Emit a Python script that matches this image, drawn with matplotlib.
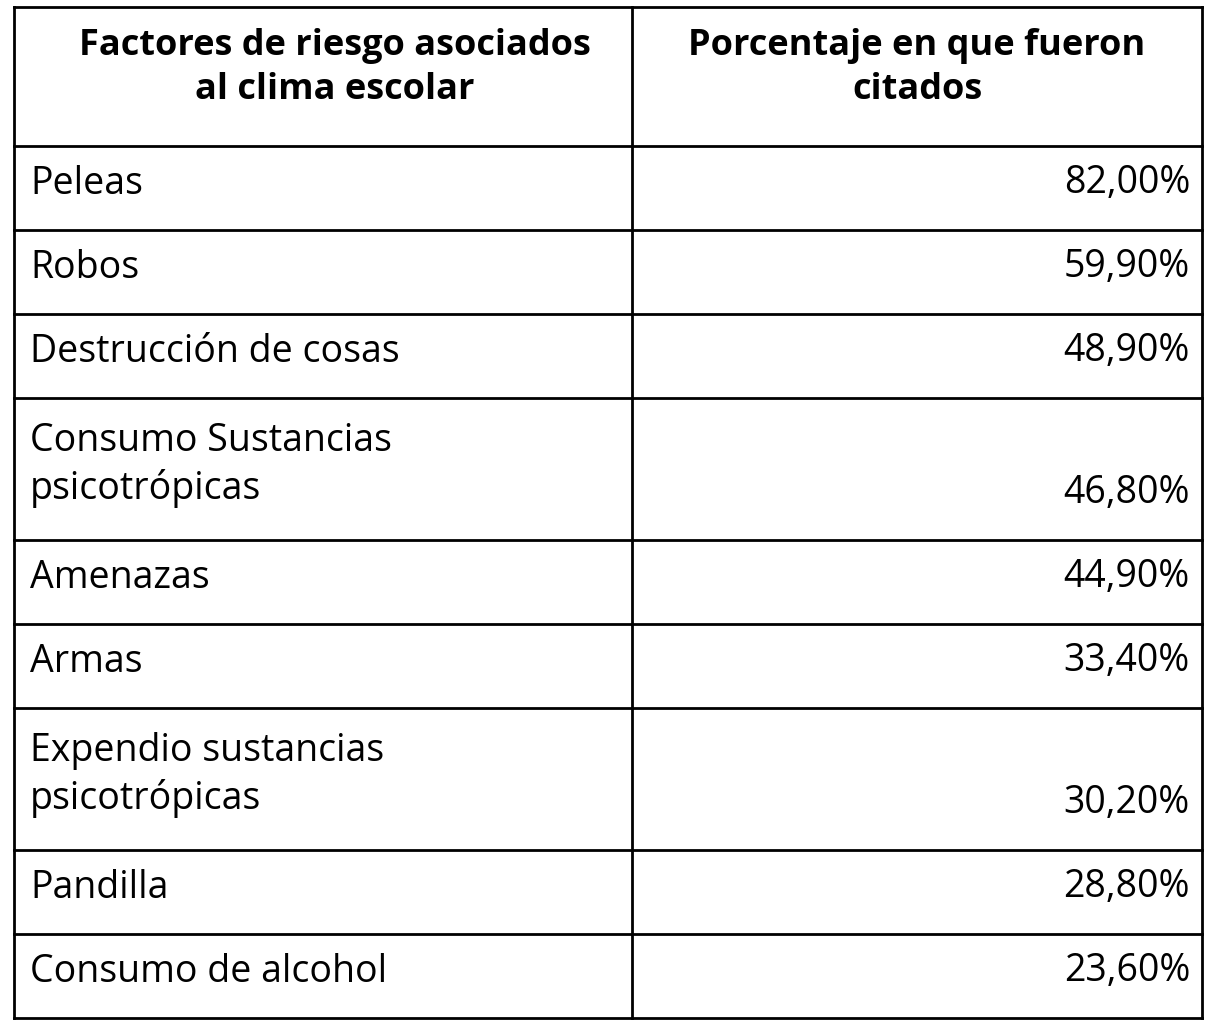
import matplotlib.pyplot as plt

headers = ["Factores de riesgo asociados\nal clima escolar",
           "Porcentaje en que fueron\ncitados"]
factores = ["Peleas", "Robos", "Destrucción de cosas",
            "Consumo Sustancias\npsicotrópicas", "Amenazas", "Armas",
            "Expendio sustancias\npsicotrópicas", "Pandilla", "Consumo de alcohol"]
porcentajes = [82.00, 59.90, 48.90, 46.80, 44.90, 33.40, 30.20, 28.80, 23.60]

W, H = 1214, 1028
fig = plt.figure(figsize=(W / 100, H / 100), dpi=100)
ax = fig.add_axes([0, 0, 1, 1])
ax.set_xlim(0, W)
ax.set_ylim(H, 0)
ax.axis("off")

x0, xm, x1 = 14, 632, 1202
top, head_bot = 7, 146
one, two = 84, 142
fs = 27
font = "Open Sans"

lw = 2
ax.plot([x0, x1], [top, top], color="black", lw=lw)
ax.plot([x0, x1], [head_bot, head_bot], color="black", lw=lw)

for i, h in enumerate(headers):
    cx = (x0 + xm) / 2 + 12 if i == 0 else (xm + x1) / 2
    ax.text(cx, 68, h, ha="center", va="center", fontsize=fs - 1, fontweight="bold",
            family=font, linespacing=1.3)

y = head_bot
for f, v in zip(factores, porcentajes):
    nlines = f.count("\n") + 1
    h = one if nlines == 1 else two
    ax.text(30, y + h / 2 - 4, f, ha="left", va="center", fontsize=fs,
            family=font, linespacing=1.3)
    txt = f"{v:.2f}".replace(".", ",") + "%"
    ax.text(1190, y + h - 47, txt, ha="right", va="center", fontsize=fs, family=font)
    y += h
    ax.plot([x0, x1], [y, y], color="black", lw=lw)

for x in (x0, xm, x1):
    ax.plot([x, x], [top, y], color="black", lw=lw)

fig.savefig("out.png", dpi=100)
